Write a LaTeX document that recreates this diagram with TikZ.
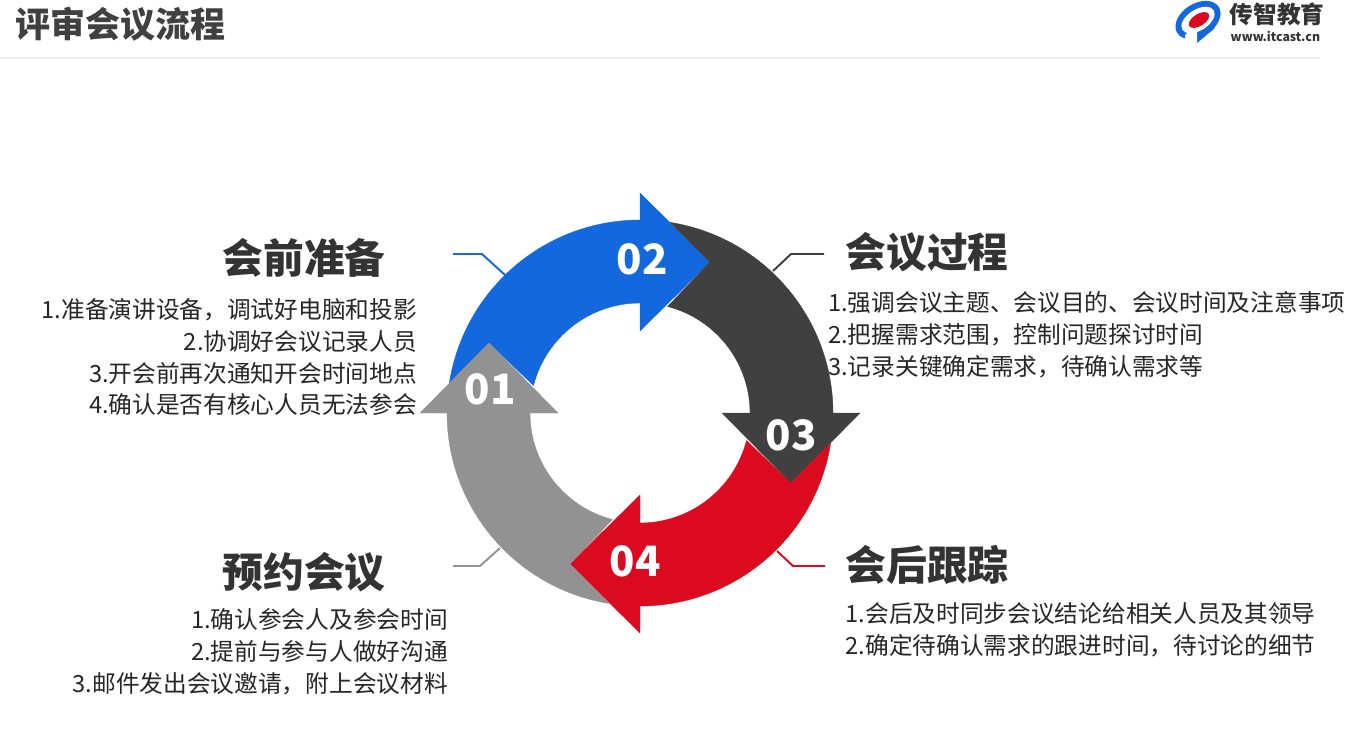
\documentclass[tikz,border=0pt]{standalone}
\usepackage{fontspec}
\setmainfont{Noto Sans CJK SC}
\usetikzlibrary{arrows.meta}
\definecolor{ringblue}{HTML}{1268DC}
\definecolor{ringdark}{HTML}{404040}
\definecolor{ringred}{HTML}{DC0A1E}
\definecolor{ringgray}{HTML}{929292}
\tikzset{
  pagetitle/.style={font=\fontsize{9.96}{12}\selectfont\bfseries, text=black!75, inner sep=0pt, anchor=west},
  stagehead/.style={font=\fontsize{11.6}{14}\selectfont\bfseries, text=black!80, inner sep=0pt},
  stagetext/.style={font=\fontsize{6.74}{9.1}\selectfont, text=black!85, inner sep=0pt},
  stagenum/.style={font=\fontsize{11.9}{14}\selectfont\bfseries, text=white, inner sep=0pt},
  ringarrow/.style={shift={(6.40,3.31)}, draw=#1, fill=#1, line width=0.1pt},
  stagelink/.style={draw=#1, line width=0.55pt}
}
\newcommand{\ringshape}{(171:1.93) arc[start angle=171, end angle=90, radius=1.93] -- (90:2.20) -- (0.70,1.51) -- (90:0.82) -- (90:1.10) arc[start angle=90, end angle=165.5, radius=1.10] -- (-1.51,0.70) -- cycle}

\begin{document}
\begin{tikzpicture}
  \useasboundingbox (0,0) rectangle (13.49,7.44);
  \fill[white] (0,0) rectangle (13.49,7.44);
  % header
  \node[pagetitle] (title) at (0.15,7.20) {评审会议流程};
  \coordinate (ruleL) at (0,6.86);
  \coordinate (ruleR) at (13.20,6.86);
  \draw[black!6, line width=0.3pt] (ruleL) -- (ruleR);
  % logo
  \fill[ringblue, rotate around={32:(11.98,7.24)}] (11.98,7.24) ellipse (0.245 and 0.165);
  \fill[ringblue] (11.97,7.01) -- (11.97,7.14) -- (12.15,7.16) -- cycle;
  \fill[white, rotate around={32:(11.98,7.24)}] (11.98,7.24) ellipse (0.185 and 0.105);
  \fill[white] (11.97,7.18) -- (11.97,7.00) -- (11.86,7.00) -- (11.85,7.09) -- cycle;
  \fill[ringred, rotate around={32:(11.99,7.24)}] (11.99,7.24) ellipse (0.115 and 0.06);
  \node[font=\fontsize{6.75}{8}\selectfont\bfseries, text=black!80, inner sep=0pt, anchor=west] (logoname) at (12.29,7.30) {传智教育};
  \node[font=\fontsize{3.5}{5}\selectfont\bfseries, text=black!80, inner sep=0pt, anchor=west] (logourl) at (12.30,7.08) {www.itcast.cn};
  % stage texts
  \node[stagehead] (prephead) at (3.04,4.86) {会前准备};
  \node[stagetext, anchor=east, align=right] (preptext) at (4.175,3.87) {1.准备演讲设备，调试好电脑和投影\\2.协调好会议记录人员\\3.开会前再次通知开会时间地点\\4.确认是否有核心人员无法参会};
  \node[stagehead] (meethead) at (9.27,4.92) {会议过程};
  \node[stagetext, anchor=west, align=left] (meettext) at (8.275,4.095) {1.强调会议主题、会议目的、会议时间及注意事项\\2.把握需求范围，控制问题探讨时间\\3.记录关键确定需求，待确认需求等};
  \node[stagehead] (bookhead) at (3.04,1.72) {预约会议};
  \node[stagetext, anchor=east, align=right] (booktext) at (4.485,0.92) {1.确认参会人及参会时间\\2.提前与参与人做好沟通\\3.邮件发出会议邀请，附上会议材料};
  \node[stagehead] (trackhead) at (9.27,1.79) {会后跟踪};
  \node[stagetext, anchor=west, align=left] (tracktext) at (8.45,1.14) {1.会后及时同步会议结论给相关人员及其领导\\2.确定待确认需求的跟进时间，待讨论的细节};
  % links
  \coordinate (prepA) at (4.53,4.90);
  \coordinate (prepB) at (4.82,4.90);
  \coordinate (prepC) at (5.05,4.69);
  \coordinate (meetA) at (8.24,4.90);
  \coordinate (meetB) at (7.91,4.90);
  \coordinate (meetC) at (7.73,4.73);
  \coordinate (bookA) at (4.53,1.78);
  \coordinate (bookB) at (4.80,1.78);
  \coordinate (bookC) at (5.00,1.96);
  \coordinate (trackA) at (8.25,1.78);
  \coordinate (trackB) at (7.93,1.78);
  \coordinate (trackC) at (7.77,1.93);
  \draw[stagelink=ringblue] (prepA) -- (prepB) -- (prepC);
  \draw[stagelink=ringdark] (meetA) -- (meetB) -- (meetC);
  \draw[stagelink=ringgray] (bookA) -- (bookB) -- (bookC);
  \draw[stagelink=ringred] (trackA) -- (trackB) -- (trackC);
  % ring
  \draw[ringarrow=ringblue] \ringshape;
  \draw[ringarrow=ringdark, rotate=-90] \ringshape;
  \draw[ringarrow=ringred, rotate=-180] \ringshape;
  \draw[ringarrow=ringgray, rotate=90] \ringshape;
  \node[stagenum] (numA) at (4.90,3.55) {01};
  \node[stagenum] (numB) at (6.42,4.85) {02};
  \node[stagenum] (numC) at (7.91,3.09) {03};
  \node[stagenum] (numD) at (6.35,1.83) {04};
\end{tikzpicture}
\end{document}
